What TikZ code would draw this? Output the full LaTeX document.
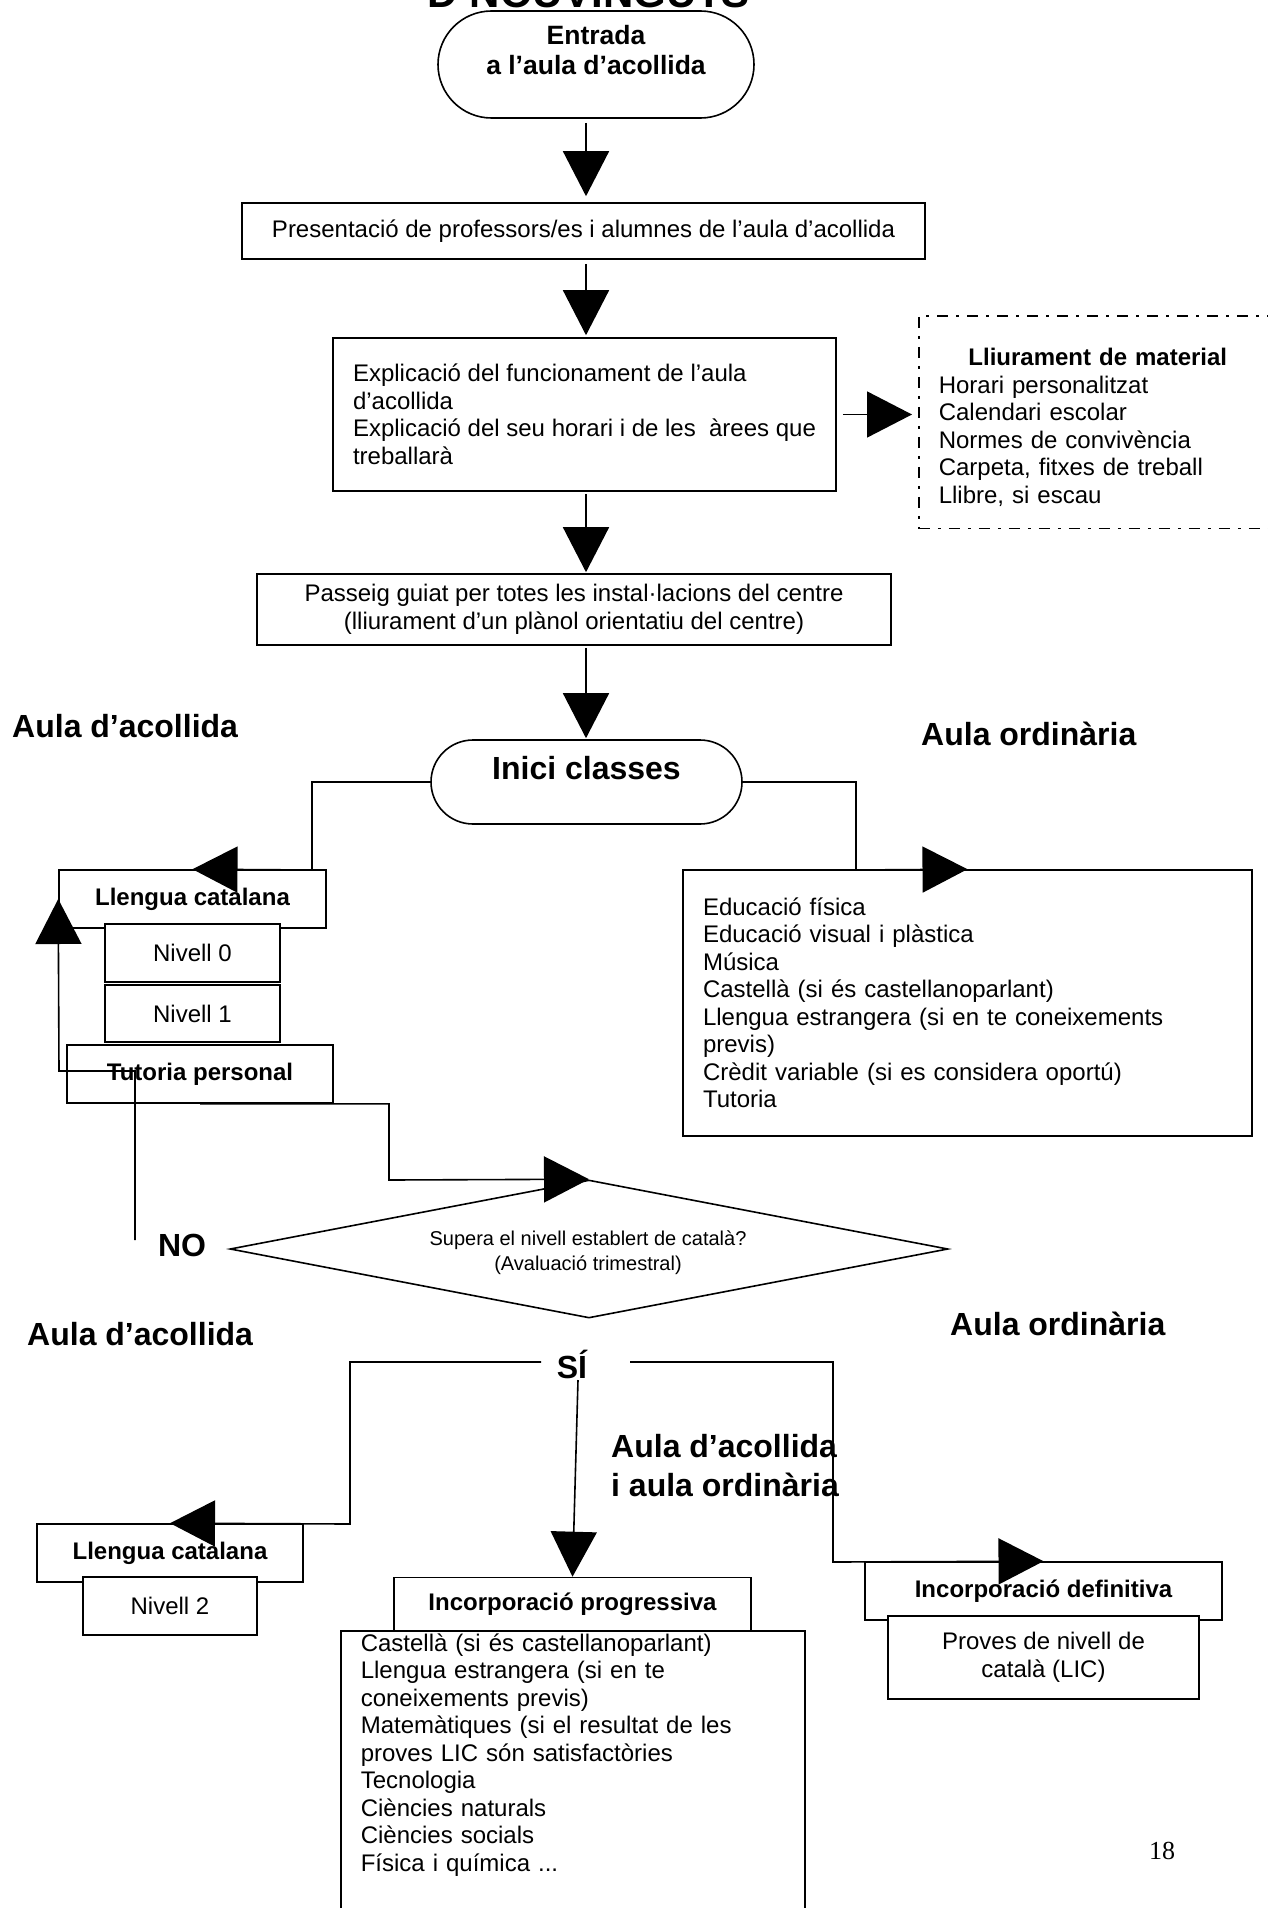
\documentclass[tikz,border=0pt]{standalone}
\usepackage{fontspec}
\setmainfont{Liberation Sans}
\newfontfamily\pagefont{Liberation Serif}
\usetikzlibrary{arrows.meta,shapes.geometric}
\newcommand{\setfs}[2]{\fontsize{#1}{#2}\selectfont}
\begin{document}
\begin{tikzpicture}[x=1pt,y=-1pt,
  box/.style={draw,line width=1.6pt,fill=white,inner sep=0pt,font=\setfs{24}{27.5}},
  bbox/.style={box,font=\bfseries\setfs{24}{27.5}},
  stad/.style={draw,line width=1.6pt,fill=white,inner sep=0pt},
  conn/.style={line width=1.6pt},
  arr/.style={line width=1.6pt,-{Triangle[length=45pt,width=46pt]}},
  head/.style={font=\bfseries\setfs{32}{39},anchor=west,inner sep=0pt,align=left},
  lbl/.style={font=\bfseries\setfs{32}{39},inner sep=0pt},
]
\useasboundingbox (0,0) rectangle (1268,1908);
\fill[white] (0,0) rectangle (1268,1908);

% title (cut at top, as in the reference)
\node[anchor=base,inner sep=0pt,font=\bfseries\setfs{42}{48}] (title) at (589,8) {D’NOUVINGUTS};

% top chain
\node[stad,rounded corners=53.5pt,minimum width=316,minimum height=107,align=center,
      font=\bfseries\setfs{26.5}{30}] (entrada) at (596,64.5) {Entrada\\a l’aula d’acollida\\\mbox{}};
\node[box,minimum width=683,minimum height=56] (pres) at (583.5,231)
  {Presentació de professors/es i alumnes de l’aula d’acollida};
\node[box,minimum width=503,minimum height=153,align=left] (expl) at (584.5,414.5)
  {Explicació del funcionament de l’aula\\d’acollida\\Explicació del seu horari i de les \ àrees que\\treballarà};
\node[box,fill=none,dash pattern=on 11pt off 8pt on 3pt off 8pt,anchor=north west,text width=318,
      inner xsep=20pt,inner ysep=32.5pt,text depth=130.5pt,align=left] (mat) at (918,315)
  {\makebox[318pt][c]{\bfseries Lliurament de material}\\Horari personalitzat\\Calendari escolar\\Normes de convivència\\Carpeta, fitxes de treball\\Llibre, si escau};
\node[box,minimum width=634,minimum height=71,align=center] (pass) at (574,609.5)
  {Passeig guiat per totes les instal·lacions del centre\\(lliurament d’un plànol orientatiu del centre)};
\node[stad,rounded corners=42pt,minimum width=311,minimum height=84,align=center,
      font=\bfseries\setfs{32}{28}] (inici) at (586.5,782) {Inici classes\\\mbox{}};

% headings
\node[head] (h1) at (12,726) {Aula d’acollida};
\node[head] (h2) at (921,734) {Aula ordinària};
\node[head] (h3) at (27,1334) {Aula d’acollida};
\node[head] (h4) at (950,1324) {Aula ordinària};
\node[head] (h5) at (611,1466) {Aula d’acollida\\i aula ordinària};

% left column
\node[bbox,minimum width=267,minimum height=58] (lc1) at (192.5,899) {Llengua catalana};
\node[box,minimum width=175,minimum height=58] (niv0) at (192.5,953) {Nivell 0};
\node[box,minimum width=175,minimum height=57] (niv1) at (192.5,1013.5) {Nivell 1};
\node[bbox,minimum width=266,minimum height=58] (tut) at (200,1074) {Tutoria personal};

% right box
\node[box,minimum width=569,minimum height=266,text width=529,inner xsep=20pt,align=left] (edu) at (967.5,1003)
  {Educació física\\Educació visual i plàstica\\Música\\Castellà (si és castellanoparlant)\\Llengua estrangera (si en te coneixements\\previs)\\Crèdit variable (si es considera oportú)\\Tutoria};

% decision
\node[diamond,draw,line width=1.6pt,minimum width=718,minimum height=138,inner sep=0pt] (dia) at (589,1249) {};
\node[font=\setfs{20}{25},align=center,inner sep=0pt] (diat) at (588,1253)
  {Supera el nivell establert de català?\\(Avaluació trimestral)};
\node[lbl] (no) at (182,1245) {NO};
\node[lbl] (si) at (572,1364) {SÍ};

% bottom boxes
\node[bbox,minimum width=266,minimum height=58] (lc2) at (170,1553) {Llengua catalana};
\node[box,minimum width=174,minimum height=58] (niv2) at (170,1606) {Nivell 2};
\node[bbox,minimum width=357,minimum height=53] (prog) at (572.5,1604) {Incorporació progressiva};
\node[box,anchor=north west,text width=424,inner xsep=20pt,inner ysep=3pt,text depth=300pt,align=left] (plist) at (340,1630)
  {Castellà (si és castellanoparlant)\\Llengua estrangera (si en te\\coneixements previs)\\Matemàtiques (si el resultat de les\\proves LIC són satisfactòries\\Tecnologia\\Ciències naturals\\Ciències socials\\Física i química ...};
\node[bbox,minimum width=357,minimum height=58] (def) at (1043.5,1591) {Incorporació definitiva};
\node[box,minimum width=311,minimum height=83,align=center] (prov) at (1043.5,1657.5)
  {Proves de nivell de\\català (LIC)};

\node[font=\pagefont\setfs{26}{30},inner sep=0pt] (pg) at (1162,1851) {18};

% connector helper points
\coordinate (ax) at (586,0);
\coordinate (cL) at (312,870);
\coordinate (cR) at (856,870);
\coordinate (cT) at (389,1180);
\coordinate (cN1) at (135,1240);
\coordinate (cN2) at (59,1071);
\coordinate (cS1) at (541,1362);
\coordinate (cS2) at (350,1524);
\coordinate (cS3) at (630,1362);
\coordinate (cS4) at (833,1562);
\coordinate (cS5) at (578,1380);

% connectors
\draw[arr,shorten <=4pt,shorten >=6pt] (ax |- entrada.south) -- (ax |- pres.north);
\draw[arr,shorten <=4pt,shorten >=2pt] (ax |- pres.south) -- (ax |- expl.north);
\draw[arr,shorten <=2pt,shorten >=1pt] (ax |- expl.south) -- (ax |- pass.north);
\draw[arr,shorten <=2pt,shorten >=1pt] (ax |- pass.south) -- (ax |- inici.north);
\draw[arr,shorten <=6pt,shorten >=6pt] (expl.east) -- (expl.east -| mat.west);
\draw[arr] (inici.west) -| (cL) -- (lc1.north);
\draw[arr] (inici.east) -| (cR) -- (edu.north);
\draw[arr] (tut.south) -| (cT) -- (dia.north);
\draw[arr] (cN1) |- (cN2) -- (lc1.west);
\draw[arr] (cS1) -| (cS2) -- (lc2.north);
\draw[arr] (cS3) -| (cS4) -- (def.north);
\draw[arr] (cS5) -- (prog.north);
\end{tikzpicture}
\end{document}
